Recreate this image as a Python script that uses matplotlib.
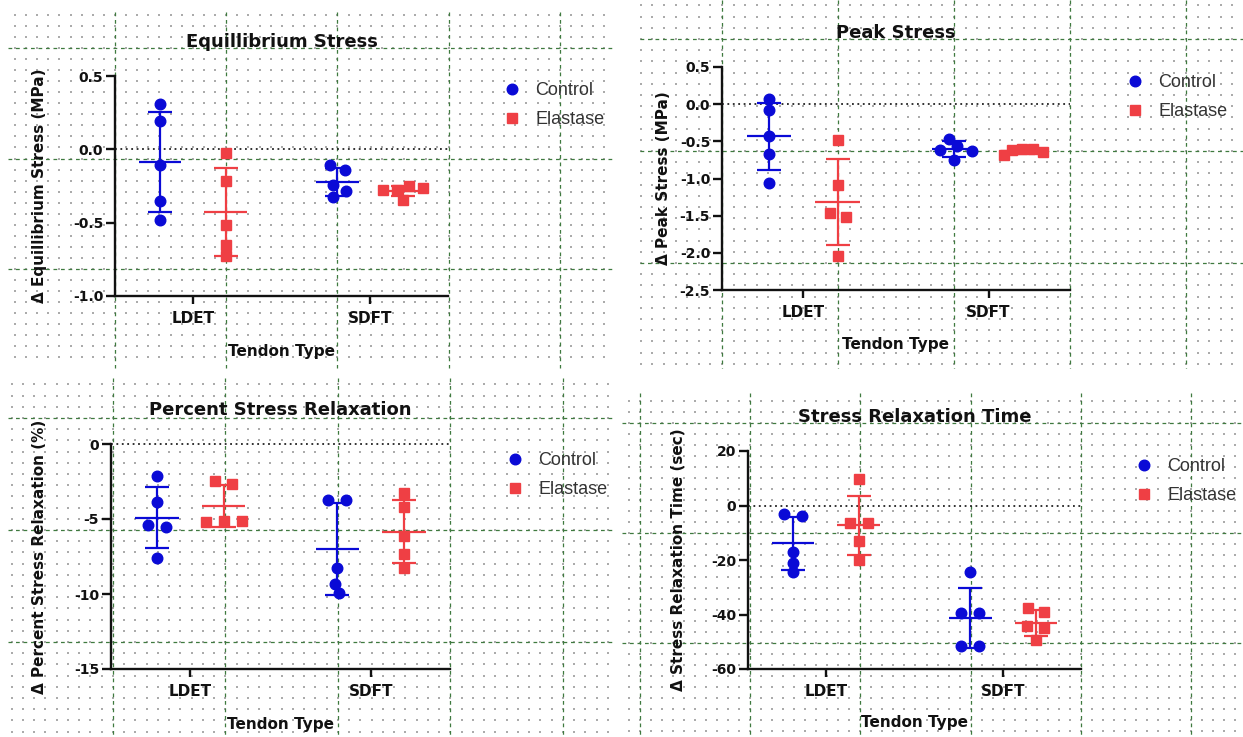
import numpy as np
import matplotlib
matplotlib.use("Agg")
import matplotlib.pyplot as plt
from matplotlib.ticker import FormatStrFormatter

W, H = 1243, 737

tendons = ["LDET", "SDFT"]
groups = ["Control", "Elastase"]

# change after treatment, 5 tendons per group
eq_control_ldet = [0.31, 0.195, -0.106, -0.35, -0.484]
eq_control_sdft = [-0.106, -0.14, -0.246, -0.286, -0.326]
eq_elastase_ldet = [-0.027, -0.213, -0.518, -0.649, -0.728]
eq_elastase_sdft = [-0.251, -0.264, -0.274, -0.280, -0.343]

peak_control_ldet = [0.066, -0.083, -0.43, -0.665, -1.055]
peak_control_sdft = [-0.462, -0.566, -0.61, -0.629, -0.755]
peak_elastase_ldet = [-0.486, -1.081, -1.47, -1.524, -2.04]
peak_elastase_sdft = [-0.597, -0.606, -0.61, -0.642, -0.686]

pct_control_ldet = [-2.11, -3.89, -5.4, -5.51, -7.62]
pct_control_sdft = [-3.73, -3.73, -8.29, -9.36, -9.91]
pct_elastase_ldet = [-2.47, -2.67, -5.11, -5.11, -5.22]
pct_elastase_sdft = [-3.24, -4.22, -6.11, -7.36, -8.24]

time_control_ldet = [-3.17, -3.9, -16.95, -21.2, -24.5]
time_control_sdft = [-24.5, -39.5, -39.5, -51.5, -51.5]
time_elastase_ldet = [9.63, -6.59, -6.59, -12.9, -20.0]
time_elastase_sdft = [-37.7, -38.9, -44.1, -45.0, -49.5]

eq_ticks = [-1.0, -0.5, 0.0, 0.5]
peak_ticks = [-2.5, -2.0, -1.5, -1.0, -0.5, 0.0, 0.5]
pct_ticks = [-15, -10, -5, 0]
time_ticks = [-60, -40, -20, 0, 20]

# layout in pixels: axes box (left, top, right, bottom), legend centre, label centres
panels = [
    dict(title="Equillibrium Stress", ylabel="Δ Equillibrium Stress (MPa)",
         ticks=eq_ticks, fmt="%.1f",
         series=[(eq_control_ldet, eq_control_sdft), (eq_elastase_ldet, eq_elastase_sdft)],
         box=(115, 76, 448, 296), legend=(512, 105), ylab_x=40, xlab_y=352),
    dict(title="Peak Stress", ylabel="Δ Peak Stress (MPa)",
         ticks=peak_ticks, fmt="%.1f",
         series=[(peak_control_ldet, peak_control_sdft), (peak_elastase_ldet, peak_elastase_sdft)],
         box=(722, 67, 1070, 290), legend=(1135, 97), ylab_x=664, xlab_y=345),
    dict(title="Percent Stress Relaxation", ylabel="Δ Percent Stress Relaxation (%)",
         ticks=pct_ticks, fmt="%d",
         series=[(pct_control_ldet, pct_control_sdft), (pct_elastase_ldet, pct_elastase_sdft)],
         box=(111, 444, 450, 669), legend=(515, 475), ylab_x=40, xlab_y=725),
    dict(title="Stress Relaxation Time", ylabel="Δ Stress Relaxation Time (sec)",
         ticks=time_ticks, fmt="%d",
         series=[(time_control_ldet, time_control_sdft), (time_elastase_ldet, time_elastase_sdft)],
         box=(748, 451, 1081, 669), legend=(1144, 481), ylab_x=678, xlab_y=723),
]

# notebook-paper grid behind each screenshot: region, major-line origin and spacing
paper = [
    ((8, 612, 12, 368), (115, 48, 111.2, 110.5)),
    ((640, 1243, 0, 368), (722, 39, 116.0, 112.0)),
    ((8, 612, 378, 737), (113, 418, 112.5, 112.0)),
    ((622, 1243, 393, 737), (640, 423, 110.2, 110.0)),
]

BLUE, RED = "#0a0ad6", "#ef3f44"
styles = [(groups[0], BLUE, "o", 7.6), (groups[1], RED, "s", 6.9)]

plt.rcParams["font.family"] = "DejaVu Sans"
plt.rcParams["font.weight"] = "bold"
plt.rcParams["axes.unicode_minus"] = False


def swarm(yp, near=8.5, step=18.0, widest=20.0):
    # prism-like scatter: points closer than `near` px vertically get spread
    # sideways by `step` px, each cluster centred and kept inside the column
    y = np.asarray(yp) / near
    n = len(y)
    order = np.argsort(-y, kind="stable")
    off = np.zeros(n)
    done = []
    for i in order:
        cands = [0.0]
        for j in done:
            dy = abs(y[i] - y[j])
            if dy < 1:
                dx = np.sqrt(1 - dy * dy)
                cands += [off[j] + dx, off[j] - dx]
        cands.sort(key=abs)
        for c in cands:
            if all(np.hypot(c - off[j], y[i] - y[j]) >= 1 - 1e-6 for j in done):
                off[i] = c
                break
        done.append(i)
    ys = y[order]
    start = 0
    for k in range(1, n + 1):
        if k == n or ys[k - 1] - ys[k] >= 1:
            idx = order[start:k]
            off[idx] -= off[idx].mean()
            start = k
    off *= step
    big = np.abs(off).max()
    if big > widest:
        off *= widest / big
    return off


fig = plt.figure(figsize=(W / 100, H / 100), dpi=100)

bg = fig.add_axes([0, 0, 1, 1], zorder=0)
bg.set_xlim(0, W)
bg.set_ylim(H, 0)
bg.axis("off")
for (x0, x1, y0, y1), (ox, oy, sx, sy) in paper:
    kx = np.arange(np.ceil((x0 - ox) / sx * 10), np.floor((x1 - ox) / sx * 10) + 1)
    ky = np.arange(np.ceil((y0 - oy) / sy * 10), np.floor((y1 - oy) / sy * 10) + 1)
    gx, gy = np.meshgrid(ox + kx * sx / 10, oy + ky * sy / 10)
    bg.scatter(gx.ravel(), gy.ravel(), s=1.2, marker="s", color="#ababab", linewidths=0)
    mx = ox + np.arange(np.ceil((x0 - ox) / sx), np.floor((x1 - ox) / sx) + 1) * sx
    my = oy + np.arange(np.ceil((y0 - oy) / sy), np.floor((y1 - oy) / sy) + 1) * sy
    bg.vlines(mx, y0, y1, colors="#3f7a3f", lw=0.9, linestyles=(0, (3, 3)))
    bg.hlines(my, x0, x1, colors="#3f7a3f", lw=0.9, linestyles=(0, (3, 3)))

for p in panels:
    l, t, r, b = p["box"]
    ax = fig.add_axes([l / W, 1 - b / H, (r - l) / W, (b - t) / H], zorder=1)
    ax.set_facecolor("none")
    ax.set_xlim(-0.44, 1.44)
    ticks = p["ticks"]
    ax.set_ylim(ticks[0], ticks[-1])
    ppx = (r - l) / 1.88
    ppy = (b - t) / (ticks[-1] - ticks[0])

    ax.axhline(0, color="#222222", ls=(0, (1, 2)), lw=1.3, zorder=1, clip_on=False)

    for gi, (name, colour, marker, ms) in enumerate(styles):
        for ti, vals in enumerate(p["series"][gi]):
            v = np.asarray(vals, dtype=float)
            xc = ti + (gi - 0.5) * 0.37
            off = swarm(v * ppy) / ppx
            ax.plot(xc + off, v, ls="none", marker=marker, ms=ms, color=colour,
                    mec=colour, zorder=3, label=name if ti == 0 else None)
            m, sd = v.mean(), v.std(ddof=1)
            ax.errorbar(xc, m, yerr=sd, fmt="none", ecolor=colour, elinewidth=1.6,
                        capsize=8.5, capthick=1.6, zorder=4)
            ax.hlines(m, xc - 0.12, xc + 0.12, color=colour, lw=1.6, zorder=4)

    for s in ("top", "right"):
        ax.spines[s].set_visible(False)
    for s in ("left", "bottom"):
        ax.spines[s].set_linewidth(1.7)
        ax.spines[s].set_color("#111111")

    ax.set_xticks([0, 1], tendons)
    ax.set_yticks(ticks)
    ax.yaxis.set_major_formatter(FormatStrFormatter(p["fmt"]))
    ax.tick_params(axis="x", length=6, width=1.7, pad=5, labelsize=11, colors="#111111")
    ax.tick_params(axis="y", length=6.5, width=1.7, pad=2, labelsize=10, colors="#111111")

    ax.set_title(p["title"], fontsize=13, fontweight="bold", pad=21, color="#111111")
    ax.set_xlabel("Tendon Type", fontsize=11, fontweight="bold", va="center", color="#111111")
    ax.xaxis.set_label_coords(0.5, (b - p["xlab_y"]) / (b - t))
    ax.set_ylabel(p["ylabel"], fontsize=11, fontweight="bold", va="center", color="#111111")
    ax.yaxis.set_label_coords((p["ylab_x"] - l) / (r - l), 0.5)

    lx, ly = p["legend"]
    hl = 0.8 * 13 * 100 / 72
    ax.legend(loc="center left", bbox_to_anchor=((lx - hl / 2) / W, 1 - ly / H),
              bbox_transform=fig.transFigure, frameon=False, borderpad=0,
              borderaxespad=0, handlelength=0.8, handletextpad=0.9, labelspacing=0.65,
              prop=dict(family="Liberation Sans", size=13, weight="normal"),
              labelcolor="#333333")

fig.savefig("out.png", dpi=100)
